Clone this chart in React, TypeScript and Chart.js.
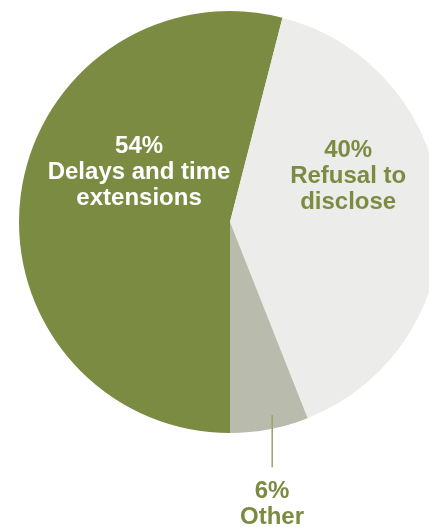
import React, { useEffect, useRef } from "react";
import { Chart, registerables } from "chart.js";

Chart.register(...registerables);

const categories = ["Delays and time extensions", "Refusal to disclose", "Other"];
const values = [54, 40, 6];
const labelLines = [
  ["54%", "Delays and time", "extensions"],
  ["40%", "Refusal to", "disclose"],
  ["6%", "Other"],
];
const sliceColors = ["#7b8c42", "#ececeb", "#b9bbad"];
const textColors = ["#ffffff", "#7b8c42", "#7b8c42"];

// label block centres in units of radius relative to pie centre
const labelPos = [
  { dx: -0.431, dy: -0.233 },
  { dx: 0.56, dy: -0.215 },
  { dx: 0.199, dy: 1.336 },
];

const labelPlugin = {
  id: "sliceLabels",
  afterDraw(chart: any) {
    const ctx = chart.ctx;
    const meta = chart.getDatasetMeta(0);
    const arc0 = meta.data[0];
    const cx = arc0.x;
    const cy = arc0.y;
    const R = arc0.outerRadius;
    ctx.save();
    // leader line for "Other"
    ctx.strokeStyle = "#9aa36a";
    ctx.lineWidth = 1.5;
    ctx.beginPath();
    ctx.moveTo(cx + 0.2 * R, cy + 0.915 * R);
    ctx.lineTo(cx + 0.2 * R, cy + 1.162 * R);
    ctx.stroke();

    ctx.font = "bold 24px 'Liberation Sans', Arial, sans-serif";
    ctx.textAlign = "center";
    ctx.textBaseline = "middle";
    const lh = 26;
    labelLines.forEach((lines, i) => {
      const p = labelPos[i];
      const x = cx + p.dx * R;
      const yMid = cy + p.dy * R;
      const y0 = yMid - ((lines.length - 1) * lh) / 2;
      ctx.fillStyle = textColors[i];
      lines.forEach((t, j) => ctx.fillText(t, x, y0 + j * lh));
    });
    ctx.restore();
  },
};

export default function App() {
  const ref = useRef<HTMLCanvasElement>(null);
  useEffect(() => {
    if (!ref.current) return;
    const chart = new Chart(ref.current, {
      type: "pie",
      data: {
        labels: categories,
        datasets: [
          {
            data: values,
            backgroundColor: sliceColors,
            borderWidth: 0,
          },
        ],
      },
      options: {
        responsive: false,
        animation: false,
        rotation: 180,
        layout: { padding: { top: 11, bottom: 94, left: 0, right: 0 } },
        plugins: {
          legend: { display: false },
          tooltip: { enabled: false },
        },
      },
      plugins: [labelPlugin],
    });
    return () => chart.destroy();
  }, []);
  return (
    <div
      style={{
        position: "fixed",
        left: 0,
        top: 0,
        width: 429,
        height: 527,
        overflow: "hidden",
        background: "#ffffff",
      }}
    >
      <canvas ref={ref} width={460} height={527} style={{ display: "block" }} />
    </div>
  );
}
